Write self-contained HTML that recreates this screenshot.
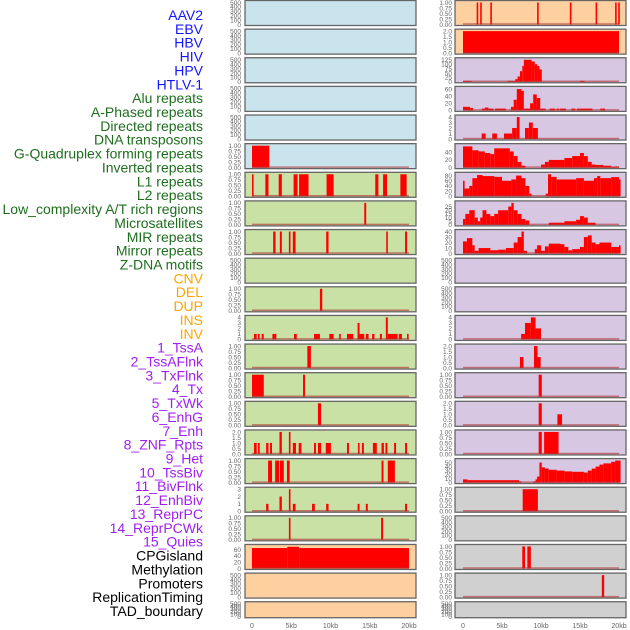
<!DOCTYPE html>
<html><head><meta charset="utf-8"><style>
body{margin:0;background:#fff;width:630px;height:630px;overflow:hidden}
svg{display:block}
</style></head><body>
<svg id="chart" width="630" height="630" xmlns="http://www.w3.org/2000/svg" font-family="Liberation Sans, sans-serif"></svg>
<script>
const labels=["AAV2","EBV","HBV","HIV","HPV","HTLV-1","Alu repeats","A-Phased repeats","Directed repeats","DNA transposons","G-Quadruplex forming repeats","Inverted repeats","L1 repeats","L2 repeats","Low_complexity A/T rich regions","Microsatellites","MIR repeats","Mirror repeats","Z-DNA motifs","CNV","DEL","DUP","INS","INV","1_TssA","2_TssAFlnk","3_TxFlnk","4_Tx","5_TxWk","6_EnhG","7_Enh","8_ZNF_Rpts","9_Het","10_TssBiv","11_BivFlnk","12_EnhBiv","13_ReprPC","14_ReprPCWk","15_Quies","CPGisland","Methylation","Promoters","ReplicationTiming","TAD_boundary"];
const labelGroups=["v","v","v","v","v","v","r","r","r","r","r","r","r","r","r","r","r","r","r","s","s","s","s","s","c","c","c","c","c","c","c","c","c","c","c","c","c","c","c","k","k","k","k","k"];
const xTicks=[0,5,10,15,20];
const xTickLabels=["0","5kb","10kb","15kb","20kb"];
const leftBg=["b","b","b","b","b","b","g","g","g","g","g","g","g","g","g","g","g","g","g","p","p","p"];
const rightBg=["p","p","u","u","u","u","u","u","u","u","u","u","u","u","u","u","u","e","e","e","e","e"];
const leftMax=[500,500,500,500,500,1,1,1,1,500,1,4,1,1,1,2,1,3,1,70,500,500];
const rightMax=[1,2,125,62,4,57,85,30,40,500,500,4,2,1,2,1,55,1,500,1,1,500];
// segments [startKb,endKb,value]
const L6=[[0,2.2,1]];
const L7=[[0,0.2,1],[1.7,2.1,1],[3.4,3.8,1],[5.3,5.8,1],[6.0,7.2,1],[9.5,10.4,1],[15.7,16.1,1],[16.7,17.2,1],[18.9,19.7,1]];
const L8=[[14.3,14.55,1]];
const L9=[[2.7,3.0,1],[3.55,3.8,1],[4.7,4.9,1],[5.2,5.55,1],[9.45,9.75,1],[17.1,17.3,1],[19.5,19.75,1]];
const L11=[[8.65,8.95,1]];
const L12=[[0.25,0.6,1],[0.76,0.98,1],[1.23,1.49,1],[2.6,3.1,1],[5.35,5.7,1],[7.9,8.65,1],[9.85,10.4,1],[11.1,11.3,1],[12.1,12.9,1],[13.45,13.7,3],[13.7,14.3,1],[14.5,14.85,1],[15.3,15.6,1],[16.3,16.55,1],[17.05,17.3,4],[17.3,18.55,1],[18.7,19.1,1],[19.75,19.95,1]];
const L13=[[7.05,7.5,1]];
const L14=[[0,1.5,1],[6.5,6.75,1]];
const L15=[[8.4,8.8,1]];
const L16=[[0.25,0.6,1],[0.76,0.98,1],[1.8,2.1,1],[2.3,2.55,1],[3.5,3.8,2],[4.7,4.9,2],[5.2,5.6,1],[5.95,6.3,1],[7.9,8.15,1],[8.4,8.8,1],[9.4,10.05,1],[12.1,12.35,1],[13.5,13.7,1],[14.0,14.25,1],[15.4,15.9,1],[16.5,16.8,1],[17.0,17.25,1],[18.1,18.35,1],[19.5,19.75,1]];
const L17=[[2.05,2.55,1],[2.95,3.45,1],[3.55,4.05,1],[4.45,4.8,1],[16.5,16.75,1],[17.3,18.2,1]];
const L18=[[1.8,2.1,1],[3.5,3.8,2],[4.7,4.9,3],[5.2,5.55,1],[7.65,8.0,1],[9.45,9.75,1],[13.45,13.7,1],[14.5,14.75,1],[19.5,19.75,1]];
const L19=[[4.7,4.9,1],[16.45,16.7,1]];
const L20=[[0,4.5,65],[4.5,6,69],[6,20,65]];
const R1=[[1.75,1.9,1],[2.2,2.4,1],[3.5,3.7,1],[9.5,9.7,1],[13.7,13.8,1],[17.0,17.2,1],[19.5,19.7,1],[19.9,20.05,1]];
const R2=[[0,20,2]];
const R3=[[0,1.1,5],[5.7,6.7,5],[6.7,7.0,15],[7.0,7.3,30],[7.3,7.6,60],[7.6,7.8,90],[7.8,8.8,125],[8.8,9.2,115],[9.2,9.5,100],[9.5,9.8,90],[9.8,10.1,70],[15,15.6,5]];
const R4=[[0,0.9,10],[0.9,1.3,7],[2.4,2.8,5],[2.8,3.25,8],[3.25,3.9,5],[4.1,5.5,5],[6.15,6.5,10],[6.5,6.9,30],[6.9,7.5,60],[7.5,7.8,55],[7.8,8.6,5],[8.6,9.0,20],[9.0,9.45,45],[9.45,9.9,35],[9.9,10.6,5],[11.1,11.8,5],[12.0,12.3,5],[12.4,13.2,5],[13.9,14.4,5],[14.6,16.6,5],[17.6,18.2,5]];
const R5=[[2.4,2.9,1],[3.75,4.35,1],[5.25,6.3,1],[6.3,6.9,2],[6.9,7.25,4],[7.95,8.45,2],[8.45,8.95,3],[8.95,9.6,2]];
const R6=[[0,1.2,55],[1.2,2,45],[2,2.8,42],[2.8,3.5,38],[3.5,4,35],[4,6,50],[6,6.5,42],[6.5,7,30],[7,7.5,15],[7.5,8,5],[10,10.5,8],[10.5,11,15],[11,13,20],[13,14,25],[14,15,30],[15,15.5,38],[15.5,16,30],[16,16.5,15],[16.5,17,8],[17,18,7],[18,19,5],[19,19.5,2],[19.5,20,3]];
const R7=[[0,0.2,60],[0.2,0.8,30],[0.8,1.2,40],[1.2,1.8,70],[1.8,2.5,82],[2.5,4,78],[4,5,75],[5,6.2,60],[6.2,6.8,65],[6.8,7.5,80],[7.5,8,70],[8,8.5,40],[8.5,8.8,10],[10.6,10.9,10],[10.9,11.3,85],[11.3,12,75],[12,14.5,65],[14.5,15.5,70],[15.5,16.8,60],[16.8,17.2,70],[17.2,17.6,78],[17.6,19,70],[19,20,74],[20,20.2,65]];
const R8=[[0,0.3,8],[0.3,0.8,15],[0.8,1.5,20],[1.5,1.9,10],[1.9,2.2,5],[2.2,2.5,10],[2.5,3,20],[3,3.5,15],[3.5,4,12],[4,4.5,15],[4.5,5.8,20],[5.8,6.2,25],[6.2,6.5,30],[6.5,7,20],[7,7.5,15],[7.5,8,8],[8,8.5,6],[11,13,3],[13,14.5,5],[14.5,15,7],[15,15.5,12],[15.5,16,10],[16,17,3]];
const R9=[[0,0.5,22],[0.5,1.2,28],[1.2,1.5,15],[1.5,2,5],[2,3.5,10],[3.5,4.5,6],[4.5,5.5,7],[5.5,6.5,10],[6.5,7,20],[7,7.5,30],[7.5,7.8,40],[7.8,8.2,5],[9.2,9.5,8],[9.5,10,15],[10,10.5,5],[10.5,11,13],[11,12.5,18],[12.5,13,17],[13,13.5,12],[13.5,14,6],[14,15,8],[15,15.5,12],[15.5,16,30],[16,16.5,33],[16.5,17,20],[17,17.5,17],[17.5,19,20],[19,20,12],[20,20.2,15]];
const R12=[[7.45,7.95,1],[7.95,8.7,3],[8.7,9.3,4],[9.3,10.0,2]];
const R13=[[7.3,7.75,1],[9.1,9.55,2],[9.55,9.95,1]];
const R14=[[9.7,10.1,1]];
const R15=[[9.7,10.1,2],[12.1,12.7,1]];
const R16=[[9.7,10.1,1],[10.4,12.25,1]];
const R17=[[0,0.6,8],[0.6,7.2,6],[7.2,7.5,3],[9,9.3,3],[9.3,9.5,8],[9.5,9.8,15],[9.8,10.1,50],[10.1,10.5,38],[10.5,11,35],[11,12,32],[12,13,30],[13,14,28],[14,15.5,27],[15.5,16,25],[16,16.5,30],[16.5,17,35],[17,17.5,40],[17.5,18,45],[18,19,48],[19,19.5,52],[19.5,20.2,55]];
const R18=[[7.65,9.6,1]];
const R20=[[7.6,7.95,1],[8.25,8.7,1]];
const R21=[[17.8,18.1,1]];
const E=null;
const leftSeries=[E,E,E,E,E,L6,L7,L8,L9,E,L11,L12,L13,L14,L15,L16,L17,L18,L19,L20,E,E];
const rightSeries=[R1,R2,R3,R4,R5,R6,R7,R8,R9,E,E,R12,R13,R14,R15,R16,R17,R18,E,R20,R21,E];
const tickSets={500:["0","100","200","300","400","500"],1:["0.00","0.25","0.50","0.75","1.00"],2:["0.0","0.5","1.0","1.5","2.0"],3:["0","1","2","3"],4:["0","1","2","3","4"],70:["0","20","40","60"],125:["0","25","50","75","100","125"],62:["0","20","40","60"],57:["0","20","40"],85:["0","20","40","60","80"],30:["0","5","10","15","20","25"],40:["0","10","20","30","40"],55:["0","10","20","30","40","50"]};
const tickSteps={500:100,1:0.25,2:0.5,3:1,4:1,70:20,125:25,62:20,57:20,85:20,30:5,40:10,55:10};

const NS="http://www.w3.org/2000/svg";
const svg=document.getElementById("chart");
function mk(tag,attrs,parent){const e=document.createElementNS(NS,tag);for(const k in attrs)e.setAttribute(k,attrs[k]);(parent||svg).appendChild(e);return e;}
const bgColors={b:"#c9e4ec",g:"#c9e1a5",p:"#fed0a0",u:"#d7c7e3",e:"#d0d0d0"};
const labelColors={v:"#1515ff",r:"#1e6e1e",s:"#ffa500",c:"#a020f0",k:"#000000"};

// labels
labels.forEach((t,i)=>{
  const el=mk("text",{x:203,y:15+i*13.86+5,"text-anchor":"end","font-size":"14",fill:labelColors[labelGroups[i]]});
  el.textContent=t;
  
  
});

const cols=[{x0:245,x1:416,z:252,k:7.85,bg:leftBg,mx:leftMax,ser:leftSeries,tx:241,name:"left"},
            {x0:455,x1:626,z:463,k:7.8,bg:rightBg,mx:rightMax,ser:rightSeries,tx:452,name:"right"}];
cols.forEach(c=>{
  const xs=v=>c.z+v*c.k;
  for(let i=0;i<22;i++){
    const top=i*28.63+0.5, h=(i==21?16:25), bot=top+h;
    const g=mk("g",{});
    
    
    const bgr=mk("rect",{x:c.x0,y:top,width:c.x1-c.x0,height:h,fill:bgColors[c.bg[i]],stroke:"#666",  "stroke-width":"1.3"},g);
    
    
    const mx=c.mx[i];
    const ys=v=>(bot-1)-(v/mx)*(h-3);
    // ticks
    const tl=tickSets[mx], st=tickSteps[mx];
    tl.forEach((t,j)=>{
      const tt=mk("text",{x:c.tx,y:ys(j*st)+2.3,"text-anchor":"end","font-size":"6.5",fill:"#666"},g);
      tt.textContent=t;
      
      
    });
    const s=c.ser[i];
    if(s){
      s.forEach(d=>{
        const x1=xs(d[0]),x2=xs(d[1]);
        const r=mk("rect",{x:x1,y:ys(d[2]),width:Math.max(1.6,x2-x1),height:ys(0)-ys(d[2]),fill:"#ff0000"},g);
        
        
      });
      const bl=mk("line",{x1:xs(0),x2:xs(20),y1:bot-1.5,y2:bot-1.5,stroke:"#b03030","stroke-width":"1.5","stroke-opacity":"0.6"},g);
      
      
    }
  }
  xTicks.forEach((v,j)=>{
    const t=mk("text",{x:xs(v),y:628,"text-anchor":"middle","font-size":"7",fill:"#666"});
    t.textContent=xTickLabels[j];
    
    
  });
});
</script>
</body></html>
